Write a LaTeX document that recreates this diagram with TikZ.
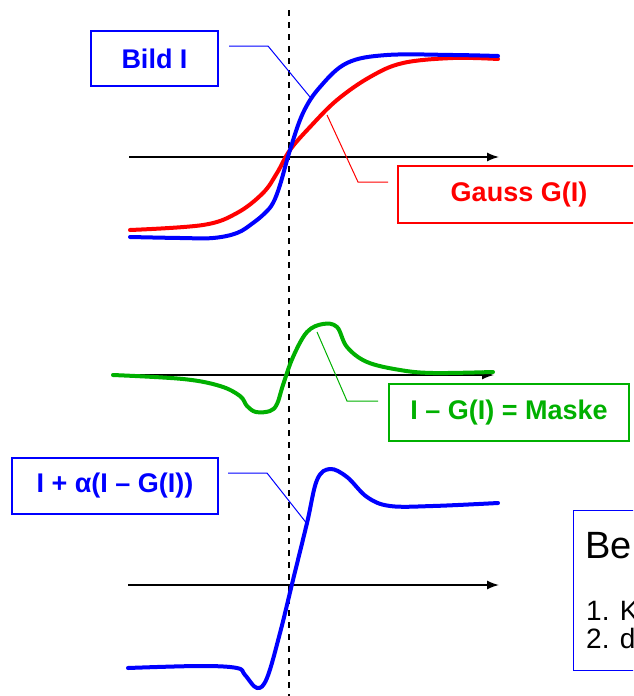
\documentclass[tikz,border=0pt]{standalone}
\usepackage{fontspec}
\setmainfont{Liberation Sans}
\usetikzlibrary{arrows.meta}
\definecolor{myblue}{RGB}{0,0,255}
\definecolor{myred}{RGB}{255,0,0}
\definecolor{mygreen}{RGB}{0,176,0}
\tikzset{
  lbox/.style={draw=#1, text=#1, line width=1.5pt, inner sep=0pt, font=\fontsize{27}{30}\selectfont\bfseries, align=center},
  curve/.style={draw=#1, line width=4pt, line cap=round, line join=round},
  conn/.style={draw=#1, line width=1pt},
  axis/.style={draw=black, line width=1.5pt, -{Latex[length=12pt,width=9pt]}},
}
\begin{document}
\begin{tikzpicture}[x=1pt,y=-1pt]
\useasboundingbox (0,0) rectangle (633,696);
\clip (0,0) rectangle (633,696);
% dashed vertical
\coordinate (dtop) at (289,10);
\coordinate (dbot) at (289,696);
\draw[line width=2pt, dash pattern=on 6pt off 6pt] (dtop) -- (dbot);
% axes
\coordinate (a1s) at (129,157); \coordinate (a1e) at (499,157);
\coordinate (a2s) at (129,375); \coordinate (a2e) at (494,375);
\coordinate (a3s) at (128,585); \coordinate (a3e) at (499,585);
\draw[axis] (a1s) -- (a1e);
\draw[axis] (a2s) -- (a2e);
\draw[axis] (a3s) -- (a3e);
% top curves
\draw[curve=myred] plot[smooth, tension=0.6] coordinates {(130,230) (203,225) (237,213) (263,193) (277,173) (290,150) (310,127) (337,100) (370,77) (403,63) (453,58) (498,59)};
\draw[curve=myblue] plot[smooth, tension=0.6] coordinates {(130,237) (180,238) (213,238) (237,233) (253,223) (265,213) (273,203) (280,185) (290,150) (303,113) (320,87) (347,63) (387,55) (453,55) (498,56)};
% middle green
\draw[curve=mygreen] plot[smooth, tension=0.6] coordinates {(113,375) (183,379) (220,386) (240,396) (247,406) (256,412) (270,411) (277,404) (283,385) (293,357) (307,332) (323,324) (337,327) (347,347) (367,362) (400,370) (433,373) (493,372)};
% bottom blue
\draw[curve=myblue] plot[smooth, tension=0.6] coordinates {(128,668) (200,666) (237,668) (245,675) (257,688) (267,678) (280,633) (293,580) (307,523) (317,480) (330,469) (347,477) (367,497) (390,506) (433,506) (498,503)};
% label boxes
\node[lbox=myblue, minimum width=127pt, minimum height=55pt] (bild) at (154.5,58.5) {Bild I};
\node[lbox=myred, minimum width=242pt, minimum height=57pt] (gauss) at (519,194.5) {Gauss G(I)};
\node[lbox=mygreen, minimum width=240pt, minimum height=57pt] (maske) at (509,412.5) {I – G(I) = Maske};
\node[lbox=myblue, minimum width=206pt, minimum height=56pt] (alpha) at (115,486) {I + α(I – G(I))};
% connectors
\coordinate (b0) at (229,46); \coordinate (b1) at (268,46); \coordinate (b2) at (310,97);
\draw[conn=myblue] (b0) -- (b1) -- (b2);
\coordinate (g0) at (388,182); \coordinate (g1) at (358,182); \coordinate (g2) at (327,115);
\draw[conn=myred] (g0) -- (g1) -- (g2);
\coordinate (m0) at (378,401); \coordinate (m1) at (347,401); \coordinate (m2) at (317,332);
\draw[conn=mygreen] (m0) -- (m1) -- (m2);
\coordinate (p0) at (228,473); \coordinate (p1) at (267,473); \coordinate (p2) at (308,525);
\draw[conn=myblue] (p0) -- (p1) -- (p2);
% bottom right box
\node[draw=myblue, line width=1.2pt, minimum width=100pt, minimum height=160pt, inner sep=0pt, anchor=north west] (bemk) at (573,510) {};
\node[anchor=base west, inner sep=0pt, font=\fontsize{38}{40}\selectfont] (be) at (585,558) {Be};
\node[anchor=base west, inner sep=0pt, font=\fontsize{28}{30}\selectfont] (l1) at (586,620) {1. K};
\node[anchor=base west, inner sep=0pt, font=\fontsize{28}{30}\selectfont] (l2) at (586,648) {2. d};
\end{tikzpicture}
\end{document}
